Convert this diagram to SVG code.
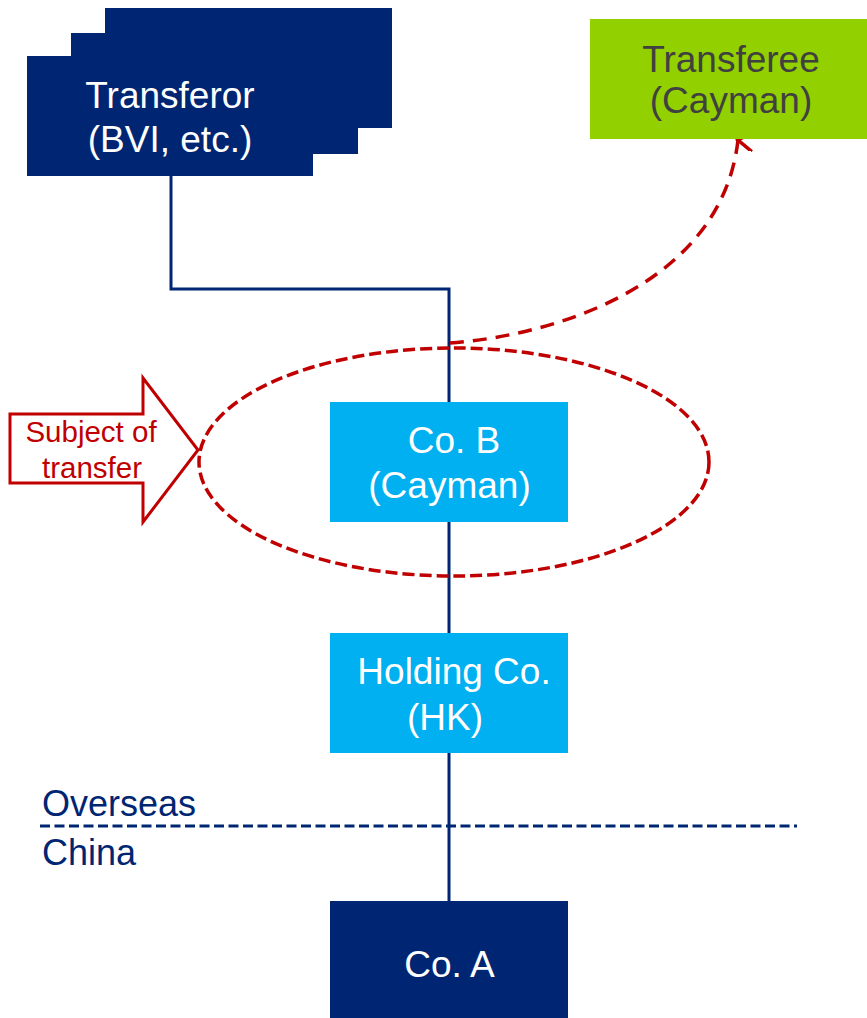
<svg xmlns="http://www.w3.org/2000/svg" width="867" height="1018" viewBox="0 0 867 1018">
<defs>
<style>
text{font-family:"Liberation Sans",Arial,sans-serif;font-size:37px;text-anchor:middle}
.w{fill:#ffffff}
.navy{fill:#002673}
.lb{fill:#00B0F0}
.conn{fill:none;stroke:#002673;stroke-width:3}
.red{fill:none;stroke:#C00000;stroke-width:3.5}
</style>
<marker id="chev" viewBox="0 0 20 20" refX="10" refY="3" markerWidth="20" markerHeight="20" markerUnits="userSpaceOnUse" orient="auto-start-reverse">
<path d="M0,18 L10,3 L20,18" fill="none" stroke="#C00000" stroke-width="3.5"/>
</marker>
</defs>
<rect width="867" height="1018" fill="#ffffff"/>
<g id="connectors">
<path class="conn" d="M171,176 V289 H449 V901"/>
<path class="red" stroke-dasharray="14 9" d="M450,343 C560,335 722,282 738,140" marker-end="url(#chev)"/>
<line x1="40" y1="826" x2="797" y2="826" stroke="#002673" stroke-width="3" stroke-dasharray="10 4.5"/>
</g>
<g id="transferor">
<rect class="navy" x="105" y="8" width="287" height="120"/>
<rect class="navy" x="71" y="33" width="287" height="121"/>
<rect class="navy" x="27" y="56" width="286" height="120"/>
<text class="w" x="170" y="108">Transferor</text>
<text class="w" x="170" y="152">(BVI, etc.)</text>
</g>
<g id="transferee">
<rect x="590" y="19" width="277" height="120" fill="#92D000"/>
<text x="731" y="72" fill="#404040">Transferee</text>
<text x="731" y="113" fill="#404040">(Cayman)</text>
</g>
<g id="cob">
<rect class="lb" x="330" y="402" width="238" height="120"/>
<text class="w" x="454" y="453">Co. B</text>
<text class="w" x="449.5" y="498">(Cayman)</text>
</g>
<g id="subject">
<ellipse class="red" cx="454" cy="462" rx="255" ry="114" stroke-dasharray="12 5"/>
</g>
<g id="subject-arrow">
<path d="M10,414 H143 V378 L198,450 L143,522 V483 H10 Z" fill="#ffffff" stroke="#C00000" stroke-width="3"/>
<text x="91" y="442" fill="#C00000" style="font-size:29.5px">Subject of</text>
<text x="92" y="478" fill="#C00000" style="font-size:29.5px">transfer</text>
</g>
<g id="holding">
<rect class="lb" x="330" y="633" width="238" height="120"/>
<text class="w" x="454" y="684">Holding Co.</text>
<text class="w" x="445" y="730">(HK)</text>
</g>
<g id="coa">
<rect class="navy" x="330" y="901" width="238" height="117"/>
<text class="w" x="449.5" y="977">Co. A</text>
</g>
<g id="regions">
<text x="42" y="816" fill="#002673" style="font-size:36px;text-anchor:start">Overseas</text>
<text x="42" y="865" fill="#002673" style="font-size:36px;text-anchor:start">China</text>
</g>
</svg>
